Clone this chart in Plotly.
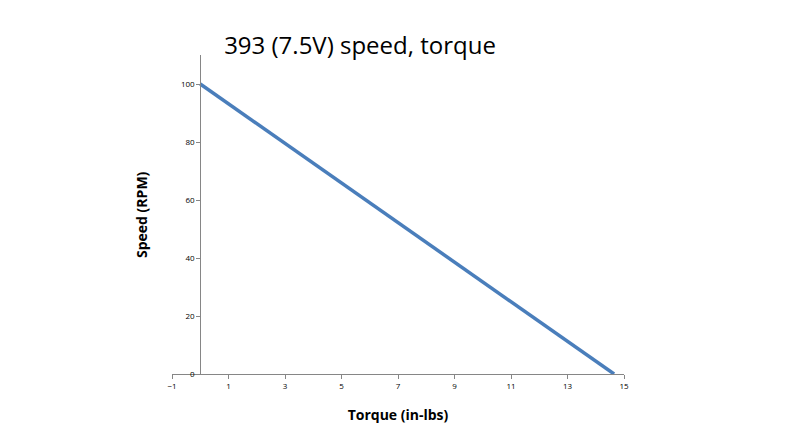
import plotly.graph_objects as go

torque = [0, 14.65]
speed = [100, 0]

x_ticks = [-1, 1, 3, 5, 7, 9, 11, 13, 15]
y_ticks = [0, 20, 40, 60, 80, 100]

fig = go.Figure(go.Scatter(x=torque, y=speed, mode="lines",
                           line=dict(color="#4a7ebb", width=3.5)))

# page has an 8px body margin, so margins are trimmed by 8
fig.update_layout(
    width=800, height=445,
    paper_bgcolor="white", plot_bgcolor="white",
    margin=dict(l=164, r=184, t=47, b=79),
    showlegend=False,
    font=dict(family="Open Sans, Liberation Sans, sans-serif", color="black"),
    title=dict(text="393 (7.5V) speed, torque", x=0.44, xanchor="center",
               y=0.915, yanchor="middle", font=dict(size=24, color="black")),
    xaxis=dict(range=[-1, 15], tickvals=x_ticks, showgrid=False, zeroline=False,
               showline=True, linecolor="#868686", ticks="outside", ticklen=4,
               tickcolor="#868686", tickfont=dict(size=8),
               title=dict(text="<b>Torque (in-lbs)</b>", font=dict(size=14), standoff=20)),
    yaxis=dict(range=[0, 110], tickvals=y_ticks, showgrid=False, zeroline=False,
               showline=True, linecolor="#868686", ticks="outside", ticklen=4,
               tickcolor="#868686", tickfont=dict(size=8),
               anchor="free", position=1/16),
    annotations=[dict(text="<b>Speed (RPM)</b>", x=0.0, xref="paper", xshift=-42,
                      y=0.5, yref="paper", textangle=-90, showarrow=False,
                      font=dict(size=14))],
)

fig.write_html("out.html")
